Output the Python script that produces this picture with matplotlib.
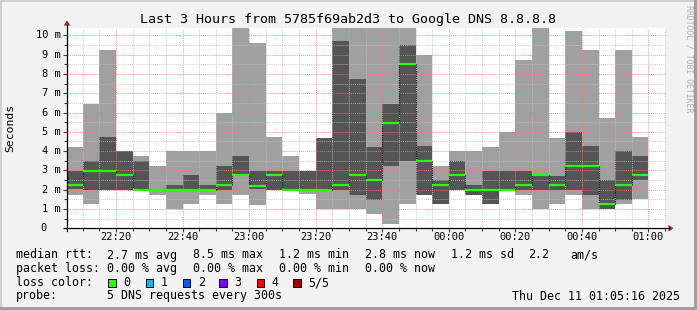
import numpy as np
import matplotlib
matplotlib.use("Agg")
import matplotlib.pyplot as plt
from matplotlib.patches import Rectangle, Polygon
from matplotlib.lines import Line2D
import matplotlib.transforms as mtransforms

# data: 5 pings every 5 minutes, values in ms (sorted ping ranks)
col_start = ["22:05", "22:10", "22:15", "22:20", "22:25", "22:30", "22:35",
             "22:40", "22:45", "22:50", "22:55", "23:00", "23:05", "23:10",
             "23:15", "23:20", "23:25", "23:30", "23:35", "23:40", "23:45",
             "23:50", "23:55", "00:00", "00:05", "00:10", "00:15", "00:20",
             "00:25", "00:30", "00:35", "00:40", "00:45", "00:50", "00:55"]
rtt_max = [4.22, 6.45, 9.25, 4.01, 3.75, 3.23, 4.01, 4.01, 4.01, 6.0, 11.0,
           9.62, 4.74, 3.75, 2.97, 4.69, 11.0, 11.0, 11.0, 11.0, 11.0, 9.0,
           3.23, 4.01, 4.01, 4.22, 5.0, 8.70, 11.0, 4.69, 10.24, 9.25, 5.72,
           9.25, 4.74]
rtt_q3 = [2.97, 3.49, 4.74, 4.01, 3.49, 2.02, 2.25, 2.78, 2.25, 3.23, 3.75,
          2.97, 2.97, 2.97, 2.97, 4.69, 9.72, 7.75, 4.22, 6.45, 9.5, 4.27,
          2.52, 3.49, 2.25, 2.97, 2.97, 2.97, 2.8, 2.72, 5.0, 4.27, 2.49,
          4.01, 3.75]
rtt_med = [2.25, 2.99, 2.99, 2.78, 2.0, 2.0, 2.0, 2.0, 2.0, 2.25, 2.78,
           2.2, 2.78, 2.0, 2.0, 2.0, 2.25, 2.78, 2.52, 5.48, 8.53, 3.49,
           2.25, 2.78, 2.0, 2.0, 2.0, 2.25, 2.78, 2.25, 3.23, 3.23, 1.26,
           2.25, 2.78]
rtt_q1 = [2.02, 2.0, 2.0, 2.0, 2.0, 2.0, 2.0, 2.0, 2.0, 2.0, 2.75,
          2.05, 2.0, 2.0, 2.0, 2.0, 2.0, 1.75, 1.47, 3.23, 3.49, 1.75,
          1.26, 2.0, 1.75, 1.26, 2.0, 2.0, 2.0, 2.0, 2.0, 1.75, 1.02,
          1.47, 2.52]
rtt_min = [1.75, 1.26, 2.0, 2.0, 1.95, 1.75, 1.02, 1.26, 1.75, 1.26, 1.75,
           1.21, 2.0, 1.95, 1.8, 1.02, 1.02, 1.02, 0.76, 0.22, 1.26, 1.75,
           1.26, 2.0, 1.75, 1.26, 2.0, 1.75, 1.02, 1.26, 1.75, 1.02, 1.02,
           1.26, 1.54]

x_labels = ["22:20", "22:40", "23:00", "23:20", "23:40", "00:00", "00:20", "00:40", "01:00"]
y_ticks = [0, 1, 2, 3, 4, 5, 6, 7, 8, 9, 10]
loss_colors = ["#26ff00", "#00b8ff", "#0059ff", "#7e00ff", "#ff0000", "#a10000"]
loss_names = ["0", "1", "2", "3", "4", "5/5"]


def to_min(s):
    h, m = s.split(":")
    v = int(h) * 60 + int(m) - 22 * 60
    return v + 24 * 60 if v < 0 else v


W, H = 697, 310
MONO = "DejaVu Sans Mono"


def fx(x):
    return x / W


def fy(y):
    return 1 - y / H


x0 = np.array([to_min(s) for s in col_start], dtype=float)
edges = np.append(x0, x0[-1] + 5)
mx, q3, md, q1, mn = (np.array(a) for a in (rtt_max, rtt_q3, rtt_med, rtt_q1, rtt_min))

fig = plt.figure(figsize=(W / 100, H / 100), dpi=100, facecolor="#f2f2f2")
ax = fig.add_axes([fx(67), fy(228.3), 599 / W, 200.3 / H])
ax.set_facecolor("white")
for s in ax.spines.values():
    s.set_visible(False)
ax.set_xlim(5.27, 185.27)
ax.set_ylim(0, 10.38)

# smoke
ax.fill_between(edges, np.append(mn, mn[-1]), np.append(mx, mx[-1]), step="post",
                color="#a0a0a0", lw=0, zorder=1)
ax.fill_between(edges, np.append(q1, q1[-1]), np.append(q3, q3[-1]), step="post",
                color="#555555", lw=0, zorder=2)

# grid on top of smoke
for t in range(10, 186, 5):
    c = (0.96, 0.5, 0.5, 0.75) if t % 20 == 0 else (0.75, 0.75, 0.75, 0.75)
    ax.axvline(t, color=c, lw=0.75, ls=(0, (1, 1)), zorder=3)
for v in np.arange(0.5, 10.4, 0.5):
    c = (0.96, 0.5, 0.5, 0.75) if v == int(v) else (0.75, 0.75, 0.75, 0.75)
    ax.axhline(v, color=c, lw=0.75, ls=(0, (1, 1)), zorder=3)

# median line
ax.vlines(x0[1:], md[:-1], md[1:], colors="black", lw=0.8, ls=(0, (1, 1)), zorder=4)
ax.hlines(md, x0, x0 + 5, colors=loss_colors[0], lw=1.6, zorder=5)

ax.set_xticks(range(20, 186, 20))
ax.set_xticks(range(10, 186, 5), minor=True)
ax.set_yticks(y_ticks)
ax.set_yticks(np.arange(0.5, 10.4, 0.5), minor=True)
ax.tick_params(which="both", labelbottom=False, labelleft=False, direction="out",
               color="#404040", width=0.8)
ax.tick_params(which="major", length=3)
ax.tick_params(which="minor", length=2)

# axes with arrows
fig.add_artist(Line2D([fx(64), fx(669)], [fy(228.3), fy(228.3)], color="black", lw=0.9))
fig.add_artist(Line2D([fx(67), fx(67)], [fy(231), fy(25)], color="black", lw=0.9))
fig.add_artist(Polygon([(fx(668.5), fy(225)), (fx(673.5), fy(228.3)), (fx(668.5), fy(231.6))],
                       closed=True, color="#a02020", lw=0))
fig.add_artist(Polygon([(fx(63.7), fy(25.5)), (fx(67), fy(20.5)), (fx(70.3), fy(25.5))],
                       closed=True, color="#a02020", lw=0))

# tick labels
ty = mtransforms.blended_transform_factory(fig.transFigure, ax.transData)
for v in y_ticks:
    if v == 0:
        fig.text(fx(46.5), v, "0", transform=ty, ha="right", va="center", fontsize=7.5, family=MONO)
    else:
        fig.text(fx(60.5), v, f"{v} m", transform=ty, ha="right", va="center", fontsize=7.5, family=MONO)
tx = mtransforms.blended_transform_factory(ax.transData, fig.transFigure)
for lab in x_labels:
    fig.text(to_min(lab), fy(237.5), lab, transform=tx, ha="center", va="center",
             fontsize=7.5, family=MONO)

fig.text(fx(348), fy(19), "Last 3 Hours from 5785f69ab2d3 to Google DNS 8.8.8.8",
         ha="center", va="center", fontsize=9.6, family=MONO)
fig.text(fx(10), fy(128), "Seconds", rotation=90, ha="center", va="center",
         fontsize=8.2, family=MONO)
fig.text(fx(688.5), fy(5), "RRDTOOL / TOBI OETIKER", rotation=270, ha="center", va="top",
         fontsize=5.9, family=MONO, color="#b0b0b0")

# legend
fs = 8.4
row1 = [(16, "median rtt:"), (107, "2.7 ms avg"), (193, "8.5 ms max"), (279, "1.2 ms min"),
        (365, "2.8 ms now"), (451, "1.2 ms sd"), (528, "2.2"), (570, "am/s")]
row2 = [(16, "packet loss:"), (107, "0.00 % avg"), (193, "0.00 % max"), (279, "0.00 % min"),
        (365, "0.00 % now")]
for x, s in row1:
    fig.text(fx(x), fy(255), s, ha="left", va="center", fontsize=fs, family=MONO)
for x, s in row2:
    fig.text(fx(x), fy(268.5), s, ha="left", va="center", fontsize=fs, family=MONO)
fig.text(fx(16), fy(282.5), "loss color:", ha="left", va="center", fontsize=fs, family=MONO)
box_x = [108.3, 145.7, 182.7, 219.3, 256.7, 293.3]
for bx, c, name in zip(box_x, loss_colors, loss_names):
    fig.add_artist(Rectangle((fx(bx), fy(286.5)), 7.5 / W, 7.5 / H, transform=fig.transFigure,
                             facecolor=c, edgecolor="black", lw=0.7))
    fig.text(fx(bx + 15), fy(282.5), name, ha="left", va="center", fontsize=fs, family=MONO)
fig.text(fx(16), fy(296), "probe:", ha="left", va="center", fontsize=fs, family=MONO)
fig.text(fx(107), fy(296), "5 DNS requests every 300s", ha="left", va="center", fontsize=fs, family=MONO)
fig.text(fx(680), fy(296), "Thu Dec 11 01:05:16 2025", ha="right", va="center", fontsize=fs, family=MONO)

# frame
fig.add_artist(Rectangle((0, fy(2)), 1, 2 / H, transform=fig.transFigure, color="#cfcfcf", lw=0))
fig.add_artist(Rectangle((0, 0), 2 / W, 1, transform=fig.transFigure, color="#cfcfcf", lw=0))
fig.add_artist(Rectangle((0, 0), 1, 3 / H, transform=fig.transFigure, color="#9f9f9f", lw=0))
fig.add_artist(Rectangle((fx(694), 0), 3 / W, 1, transform=fig.transFigure, color="#9f9f9f", lw=0))

fig.savefig("out.png", dpi=100, facecolor=fig.get_facecolor())
